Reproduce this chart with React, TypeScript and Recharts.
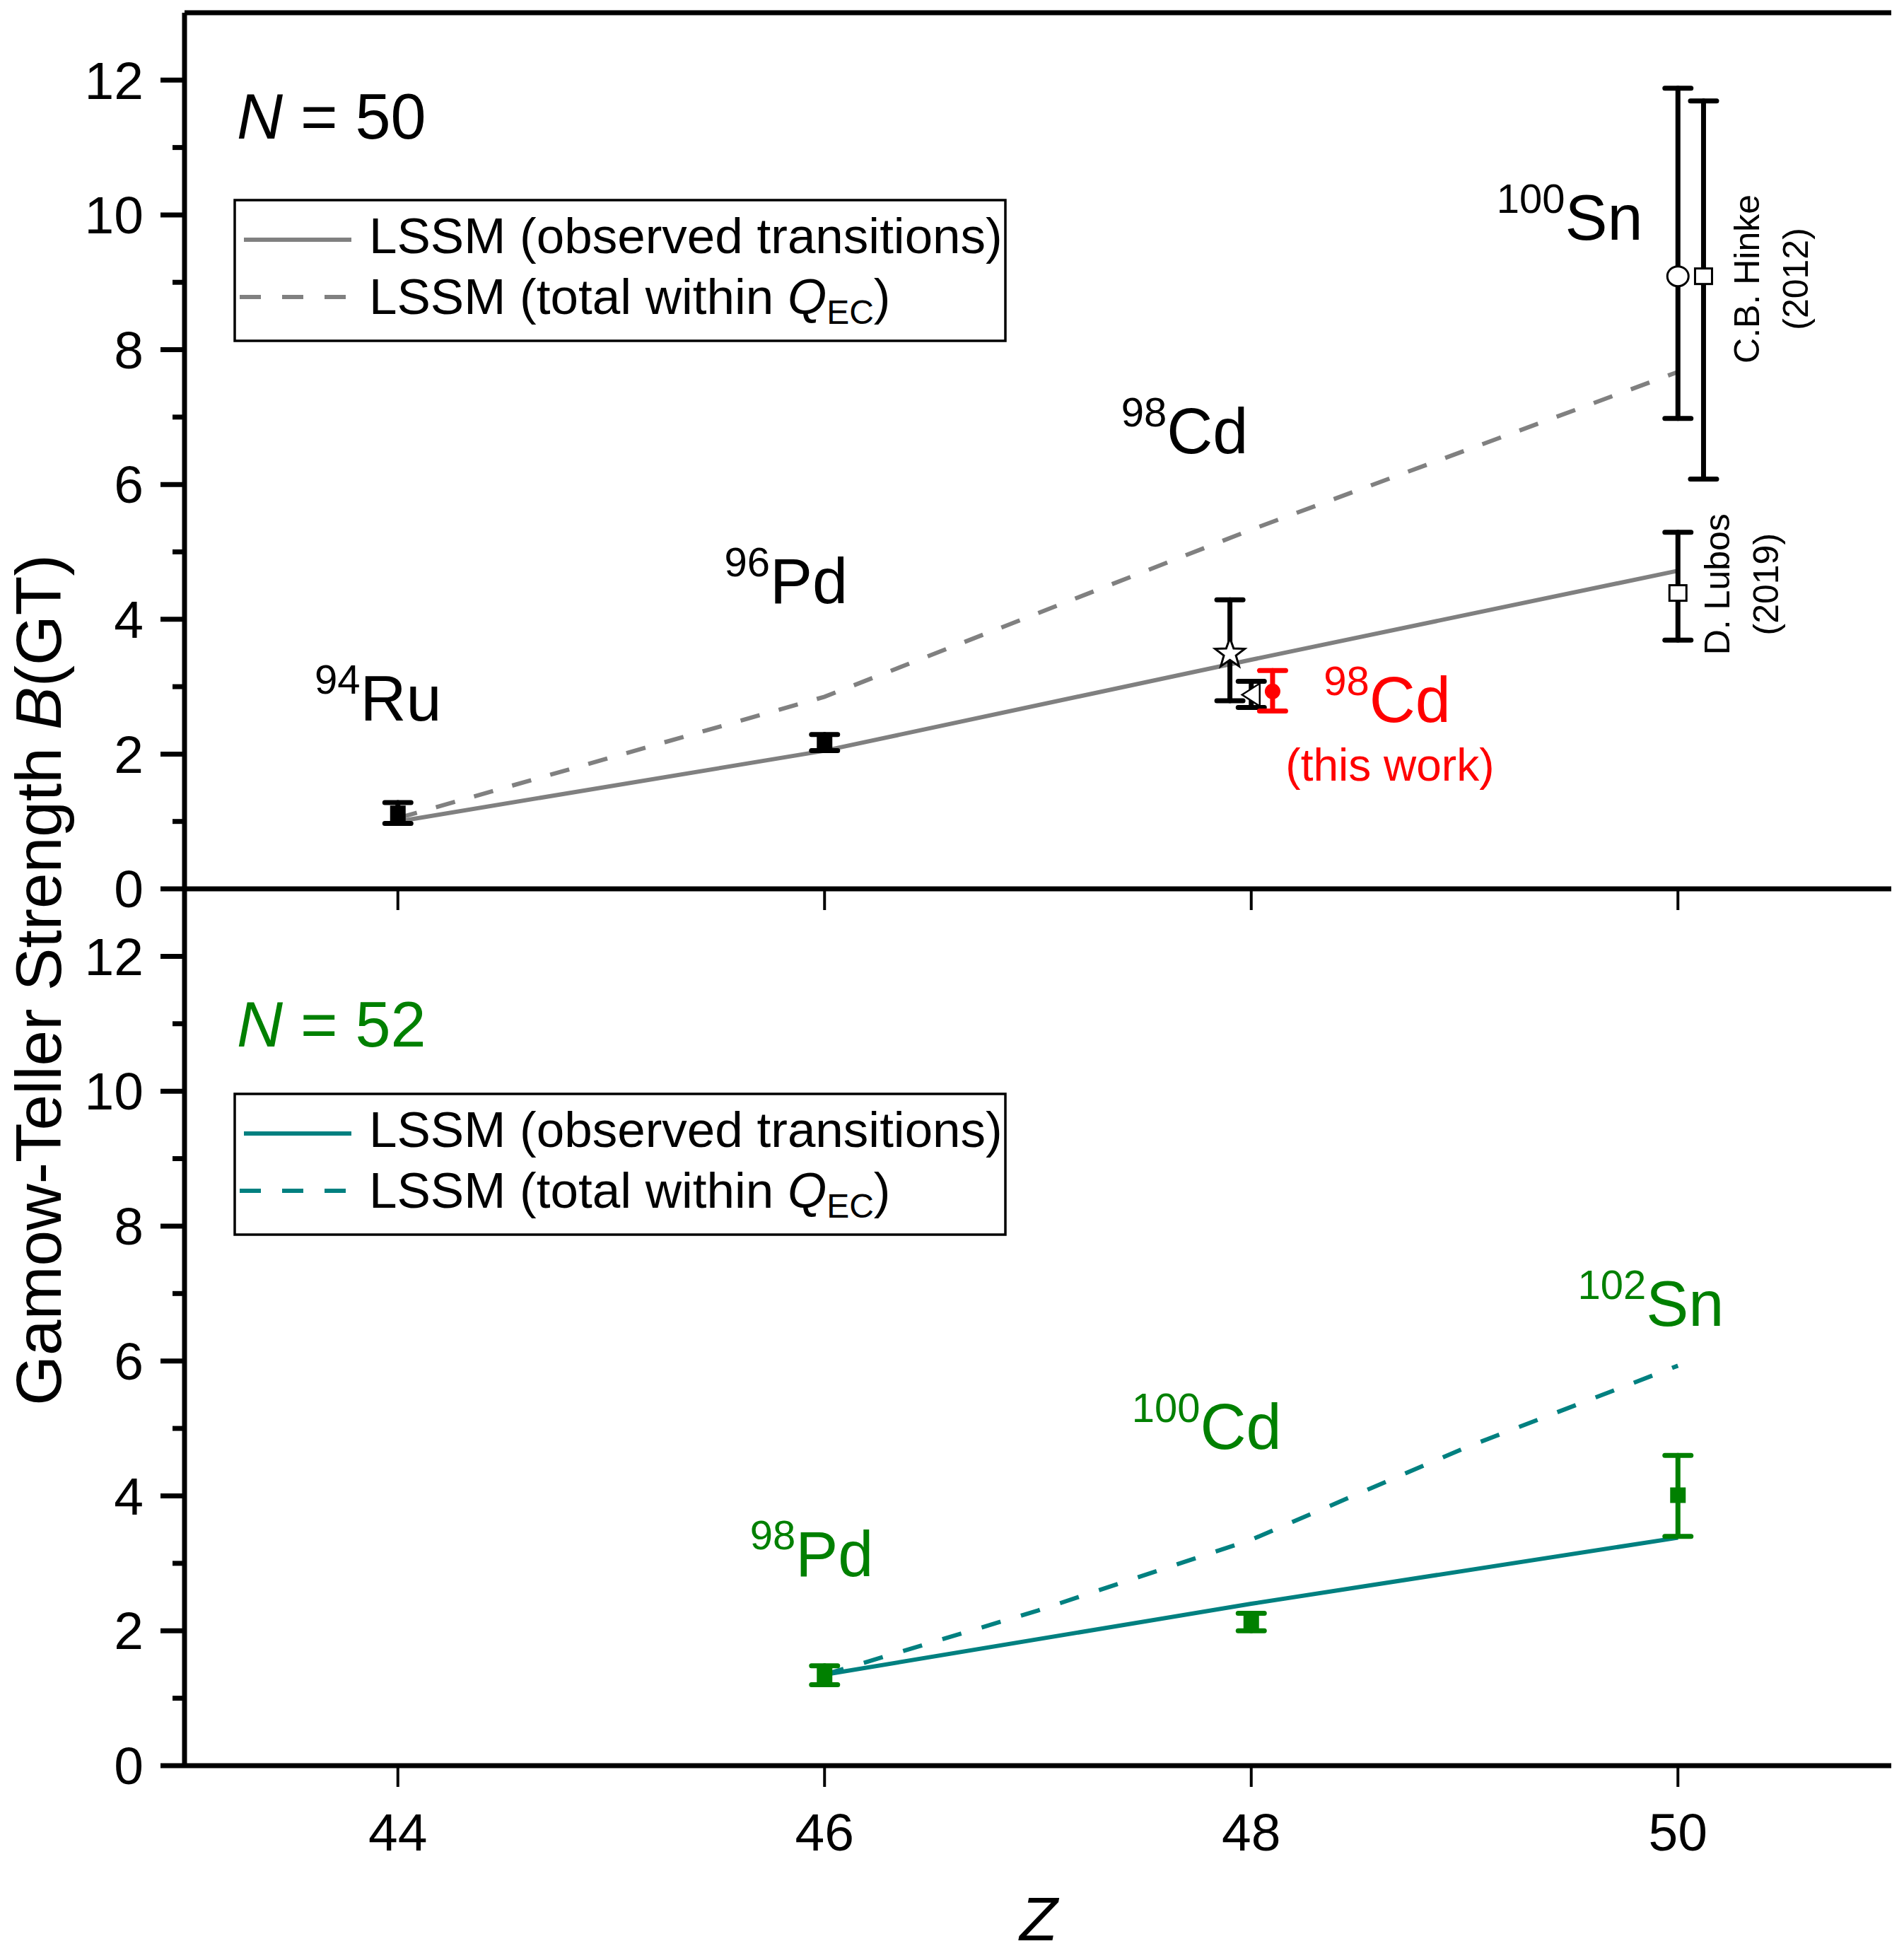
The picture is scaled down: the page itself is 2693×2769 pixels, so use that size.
import React from "react";
import {
  ComposedChart,
  Line,
  Scatter,
  XAxis,
  YAxis,
  ErrorBar,
  ReferenceDot,
  ReferenceLine,
} from "recharts";

const FONT = '"Liberation Sans", Arial, Helvetica, sans-serif';
const W = 2693;
const H = 2769;

// --- axis ticks ---
const zTicks = [44, 46, 48, 50];
const bTicks = [0, 1, 2, 3, 4, 5, 6, 7, 8, 9, 10, 11, 12];

// --- shell model curves, N = 50 ---
const lssm50Z = [44, 46, 48, 50];
const lssm50Observed = [1.0, 2.05, 3.4, 4.72];
const lssm50Total = [1.05, 2.85, 5.33, 7.67];

// --- shell model curves, N = 52 ---
const lssm52ObsZ = [46, 48, 50];
const lssm52Observed = [1.35, 2.4, 3.38];
const lssm52TotZ = [46, 47, 48, 49, 50];
const lssm52Total = [1.35, 2.3, 3.35, 4.71, 5.93];

// --- measured B(GT): [Z, value, low, high] ---
const ruPd50 = [
  [44, 1.12, 0.97, 1.28],
  [46, 2.17, 2.05, 2.29],
];
const cdStar = [[47.9, 3.49, 2.79, 4.29]];
const cdTriangle = [[48.0, 2.88, 2.69, 3.08]];
const cdThisWork = [[48.1, 2.93, 2.64, 3.24]];
const snCircle = [[50.0, 9.09, 6.98, 11.88]];
const snSquares = [
  [50.12, 9.09, 6.08, 11.69],
  [50.0, 4.39, 3.69, 5.29],
];
const exp52 = [
  [46, 1.34, 1.2, 1.48],
  [48, 2.13, 2.0, 2.26],
  [50, 4.01, 3.4, 4.6],
];

const toLine = (zs: number[], vs: number[]) => zs.map((z, i) => ({ z, v: vs[i] }));
const toPoints = (rows: number[][]) =>
  rows.map(([z, v, lo, hi]) => ({ z, v, err: [v - lo, hi - v] }));

const GRAY = "#808080";
const TEAL = "#008080";
const GREEN = "#008000";
const RED = "#ff0000";

// --- tick renderers (major with label, minor short) ---
const LeftTick = (p: any) => {
  const major = p.payload.value % 2 === 0;
  return (
    <g>
      <line x1={p.x} x2={p.x - (major ? 34 : 17)} y1={p.y} y2={p.y} stroke="#000" strokeWidth={7} />
      {major && (
        <text x={p.x - 58} y={p.y} dy="0.35em" textAnchor="end" fontFamily={FONT} fontSize={75} fill="#000">
          {p.payload.value}
        </text>
      )}
    </g>
  );
};

const RightTick = (p: any) => {
  const major = p.payload.value % 2 === 0;
  return <line x1={p.x} x2={p.x - (major ? 35 : 17)} y1={p.y} y2={p.y} stroke="#000" strokeWidth={7} />;
};

const makeZTick = (showLabel: boolean) => (p: any) => (
  <g>
    <line x1={p.x} x2={p.x} y1={p.y} y2={p.y + 30} stroke="#000" strokeWidth={4} />
    {showLabel && (
      <text x={p.x} y={p.y + 120} textAnchor="middle" fontFamily={FONT} fontSize={75} fill="#000">
        {p.payload.value}
      </text>
    )}
  </g>
);

// --- marker shapes ---
const filledSquare = (color: string, s: number) => (p: any) => (
  <rect x={p.cx - s / 2} y={p.cy - s / 2} width={s} height={s} fill={color} />
);
const openSquare = (p: any) => (
  <rect x={p.cx - 12} y={p.cy - 11} width={24} height={22} fill="#fff" stroke="#000" strokeWidth={3} />
);
const openCircle = (p: any) => <ellipse cx={p.cx} cy={p.cy} rx={15} ry={14} fill="#fff" stroke="#000" strokeWidth={3} />;
const redDot = (p: any) => <circle cx={p.cx} cy={p.cy} r={11} fill={RED} />;
const openStar = (p: any) => {
  const pts: string[] = [];
  for (let i = 0; i < 10; i++) {
    const r = i % 2 === 0 ? 22 : 9;
    const a = -Math.PI / 2 + (i * Math.PI) / 5;
    pts.push(`${p.cx + r * Math.cos(a)},${p.cy + r * Math.sin(a)}`);
  }
  return <polygon points={pts.join(" ")} fill="#fff" stroke="#000" strokeWidth={3} />;
};
const openLeftTriangle = (p: any) => (
  <polygon
    points={`${p.cx - 13},${p.cy} ${p.cx + 12},${p.cy - 16} ${p.cx + 12},${p.cy + 16}`}
    fill="#fff"
    stroke="#000"
    strokeWidth={2.5}
  />
);

// --- annotation renderers ---
const isoLabel = (mass: string, el: string, color: string) => (p: any) => (
  <text x={p.cx} y={p.cy} fill={color} fontFamily={FONT} fontSize={90}>
    <tspan fontSize={58} dy={-38}>
      {mass}
    </tspan>
    <tspan dy={38}>{el}</tspan>
  </text>
);
const nLabel = (n: string, color: string) => (p: any) => (
  <text x={p.cx} y={p.cy} fill={color} fontFamily={FONT} fontSize={90}>
    <tspan fontStyle="italic">N</tspan>
    {` = ${n}`}
  </text>
);
const plainLabel = (txt: string, color: string, size: number) => (p: any) => (
  <text x={p.cx} y={p.cy} fill={color} fontFamily={FONT} fontSize={size} textAnchor="middle">
    {txt}
  </text>
);
const rotLabel = (txt: string) => (p: any) => (
  <text
    x={p.cx}
    y={p.cy}
    transform={`rotate(-90 ${p.cx} ${p.cy})`}
    textAnchor="middle"
    fontFamily={FONT}
    fontSize={50}
    fill="#000"
  >
    {txt}
  </text>
);

const axisLine = { stroke: "#000", strokeWidth: 7 };

function LegendBox({ top, color }: { top: number; color: string }) {
  return (
    <g fontFamily={FONT} fill="#000">
      <rect x={332} y={top} width={1090} height={199} fill="#fff" stroke="#000" strokeWidth={3.5} />
      <line x1={345} x2={497} y1={top + 56} y2={top + 56} stroke={color} strokeWidth={6} />
      <line x1={339} x2={490} y1={top + 137} y2={top + 137} stroke={color} strokeWidth={6} strokeDasharray="30 30" />
      <text x={522} y={top + 75} fontSize={71}>
        LSSM (observed transitions)
      </text>
      <text x={522} y={top + 161} fontSize={71}>
        LSSM (total within <tspan fontStyle="italic">Q</tspan>
        <tspan fontSize={48} dy={14}>
          EC
        </tspan>
        <tspan dy={-14}>)</tspan>
      </text>
    </g>
  );
}

export default function App() {
  const errProps = {
    direction: "y" as const,
    width: 18.5,
    strokeWidth: 7,
    strokeLinecap: "round" as const,
    isAnimationActive: false,
  };

  return (
    <div style={{ position: "absolute", left: 0, top: 0, width: W, height: H, background: "#fff" }}>
      {/* lower panel: N = 52 */}
      <div style={{ position: "absolute", left: 0, top: 0 }}>
        <ComposedChart width={W} height={H} margin={{ top: 1257, right: 18, bottom: 0, left: 0 }}>
          <XAxis
            dataKey="z"
            type="number"
            domain={[43, 51]}
            ticks={zTicks}
            interval={0}
            allowDataOverflow
            height={272}
            tickLine={false}
            tickSize={0}
            tickMargin={0}
            tick={makeZTick(true)}
            axisLine={axisLine}
          />
          <YAxis
            yAxisId="l"
            type="number"
            domain={[0, 13]}
            ticks={bTicks}
            interval={0}
            allowDataOverflow
            width={261}
            tickLine={false}
            tickSize={0}
            tickMargin={0}
            tick={LeftTick}
            axisLine={axisLine}
          />
          <YAxis
            yAxisId="r"
            orientation="right"
            mirror
            type="number"
            domain={[0, 13]}
            ticks={bTicks}
            interval={0}
            allowDataOverflow
            width={0}
            tickLine={false}
            tickSize={0}
            tickMargin={0}
            tick={RightTick}
            axisLine={axisLine}
          />
          <Line
            yAxisId="l"
            data={toLine(lssm52TotZ, lssm52Total)}
            dataKey="v"
            stroke={TEAL}
            strokeWidth={6}
            strokeDasharray="28 30"
            dot={false}
            isAnimationActive={false}
          />
          <Line
            yAxisId="l"
            data={toLine(lssm52ObsZ, lssm52Observed)}
            dataKey="v"
            stroke={TEAL}
            strokeWidth={6}
            dot={false}
            isAnimationActive={false}
          />
          <Scatter yAxisId="l" data={toPoints(exp52)} dataKey="v" shape={filledSquare(GREEN, 22)} isAnimationActive={false}>
            <ErrorBar dataKey="err" stroke={GREEN} {...errProps} />
          </Scatter>
          <ReferenceDot yAxisId="l" x={43.245} y={10.66} r={0} ifOverflow="visible" shape={nLabel("52", GREEN)} />
          <ReferenceDot yAxisId="l" x={45.65} y={2.81} r={0} ifOverflow="visible" shape={isoLabel("98", "Pd", GREEN)} />
          <ReferenceDot yAxisId="l" x={47.44} y={4.7} r={0} ifOverflow="visible" shape={isoLabel("100", "Cd", GREEN)} />
          <ReferenceDot yAxisId="l" x={49.53} y={6.52} r={0} ifOverflow="visible" shape={isoLabel("102", "Sn", GREEN)} />
        </ComposedChart>
      </div>

      {/* upper panel: N = 50 */}
      <div style={{ position: "absolute", left: 0, top: 0 }}>
        <ComposedChart width={W} height={1300} margin={{ top: 18, right: 18, bottom: 13, left: 0 }}>
          <XAxis
            dataKey="z"
            type="number"
            domain={[43, 51]}
            ticks={zTicks}
            interval={0}
            allowDataOverflow
            height={30}
            tickLine={false}
            tickSize={0}
            tickMargin={0}
            tick={makeZTick(false)}
            axisLine={axisLine}
          />
          <YAxis
            yAxisId="l"
            type="number"
            domain={[0, 13]}
            ticks={bTicks}
            interval={0}
            allowDataOverflow
            width={261}
            tickLine={false}
            tickSize={0}
            tickMargin={0}
            tick={LeftTick}
            axisLine={axisLine}
          />
          <YAxis
            yAxisId="r"
            orientation="right"
            mirror
            type="number"
            domain={[0, 13]}
            ticks={bTicks}
            interval={0}
            allowDataOverflow
            width={0}
            tickLine={false}
            tickSize={0}
            tickMargin={0}
            tick={RightTick}
            axisLine={axisLine}
          />
          <ReferenceLine yAxisId="l" y={13} stroke="#000" strokeWidth={7} ifOverflow="visible" />
          <Line
            yAxisId="l"
            data={toLine(lssm50Z, lssm50Total)}
            dataKey="v"
            stroke={GRAY}
            strokeWidth={6}
            strokeDasharray="28 28"
            dot={false}
            isAnimationActive={false}
          />
          <Line
            yAxisId="l"
            data={toLine(lssm50Z, lssm50Observed)}
            dataKey="v"
            stroke={GRAY}
            strokeWidth={6}
            dot={false}
            isAnimationActive={false}
          />
          <Scatter yAxisId="l" data={toPoints(ruPd50)} dataKey="v" shape={filledSquare("#000", 22)} isAnimationActive={false}>
            <ErrorBar dataKey="err" stroke="#000" {...errProps} />
          </Scatter>
          <Scatter yAxisId="l" data={toPoints(cdStar)} dataKey="v" shape={openStar} isAnimationActive={false}>
            <ErrorBar dataKey="err" stroke="#000" {...errProps} />
          </Scatter>
          <Scatter yAxisId="l" data={toPoints(cdTriangle)} dataKey="v" shape={openLeftTriangle} isAnimationActive={false}>
            <ErrorBar dataKey="err" stroke="#000" {...errProps} />
          </Scatter>
          <Scatter yAxisId="l" data={toPoints(cdThisWork)} dataKey="v" shape={redDot} isAnimationActive={false}>
            <ErrorBar dataKey="err" stroke={RED} {...errProps} />
          </Scatter>
          <Scatter yAxisId="l" data={toPoints(snCircle)} dataKey="v" shape={openCircle} isAnimationActive={false}>
            <ErrorBar dataKey="err" stroke="#000" {...errProps} />
          </Scatter>
          <Scatter yAxisId="l" data={toPoints(snSquares)} dataKey="v" shape={openSquare} isAnimationActive={false}>
            <ErrorBar dataKey="err" stroke="#000" {...errProps} />
          </Scatter>
          <ReferenceDot yAxisId="l" x={43.245} y={11.13} r={0} ifOverflow="visible" shape={nLabel("50", "#000")} />
          <ReferenceDot yAxisId="l" x={43.61} y={2.5} r={0} ifOverflow="visible" shape={isoLabel("94", "Ru", "#000")} />
          <ReferenceDot yAxisId="l" x={45.53} y={4.24} r={0} ifOverflow="visible" shape={isoLabel("96", "Pd", "#000")} />
          <ReferenceDot yAxisId="l" x={47.39} y={6.46} r={0} ifOverflow="visible" shape={isoLabel("98", "Cd", "#000")} />
          <ReferenceDot yAxisId="l" x={49.15} y={9.63} r={0} ifOverflow="visible" shape={isoLabel("100", "Sn", "#000")} />
          <ReferenceDot yAxisId="l" x={48.34} y={2.48} r={0} ifOverflow="visible" shape={isoLabel("98", "Cd", RED)} />
          <ReferenceDot yAxisId="l" x={48.65} y={1.61} r={0} ifOverflow="visible" shape={plainLabel("(this work)", RED, 64)} />
          <ReferenceDot yAxisId="l" x={50.38} y={9.05} r={0} ifOverflow="visible" shape={rotLabel("C.B. Hinke")} />
          <ReferenceDot yAxisId="l" x={50.61} y={9.05} r={0} ifOverflow="visible" shape={rotLabel("(2012)")} />
          <ReferenceDot yAxisId="l" x={50.24} y={4.52} r={0} ifOverflow="visible" shape={rotLabel("D. Lubos")} />
          <ReferenceDot yAxisId="l" x={50.47} y={4.52} r={0} ifOverflow="visible" shape={rotLabel("(2019)")} />
        </ComposedChart>
      </div>

      {/* legends and axis titles */}
      <svg width={W} height={H} style={{ position: "absolute", left: 0, top: 0, pointerEvents: "none" }}>
        <LegendBox top={283} color={GRAY} />
        <LegendBox top={1547} color={TEAL} />
        <text
          x={86}
          y={1386}
          transform="rotate(-90 86 1386)"
          textAnchor="middle"
          fontFamily={FONT}
          fontSize={91}
          fill="#000"
        >
          Gamow-Teller Strength <tspan fontStyle="italic">B</tspan>(GT)
        </text>
        <text x={1469} y={2744} textAnchor="middle" fontFamily={FONT} fontSize={88} fontStyle="italic" fill="#000">
          Z
        </text>
      </svg>
    </div>
  );
}
